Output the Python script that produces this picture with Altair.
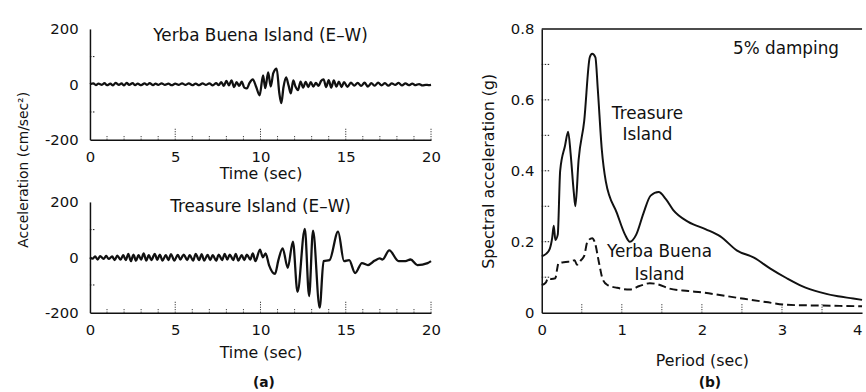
import altair as alt
import pandas as pd

# ---------------- data ----------------
# (a) top: Yerba Buena Island (E-W) acceleration, cm/sec^2
yb_time = [0.0, 0.2, 0.35, 0.5, 0.7, 0.85, 1.0, 1.2, 1.35, 1.5, 1.7, 1.85, 2.0, 2.15, 2.3, 2.5,
           2.65, 2.8, 3.0, 3.2, 3.35, 3.5, 3.7, 3.85, 4.0, 4.2, 4.4, 4.6, 4.8, 5.0, 5.2, 5.4,
           5.6, 5.8, 6.0, 6.2, 6.4, 6.6, 6.8, 7.0, 7.2, 7.4, 7.55, 7.7, 7.85, 8.0, 8.15, 8.3,
           8.45, 8.6, 8.75, 8.9, 9.05, 9.2, 9.35, 9.55, 9.75, 9.95, 10.15, 10.28, 10.45, 10.6,
           10.75, 10.95, 11.1, 11.22, 11.35, 11.5, 11.65, 11.78, 11.92, 12.05, 12.2, 12.35,
           12.5, 12.65, 12.8, 12.95, 13.1, 13.25, 13.4, 13.55, 13.7, 13.85, 14.0, 14.15, 14.3,
           14.45, 14.6, 14.75, 14.9, 15.1, 15.3, 15.5, 15.7, 15.9, 16.1, 16.3, 16.5, 16.7, 16.9,
           17.1, 17.3, 17.5, 17.7, 17.9, 18.1, 18.3, 18.5, 18.7, 18.9, 19.1, 19.3, 19.5, 19.7,
           19.85, 20.0]
yb_acc = [0, 3, -3, 2, -2, 4, -3, 2, -4, 5, -2, 3, -4, 5, -2, 4,
          -3, 2, -3, 3, -2, 4, -3, 2, -2, 3, -2, 2, -3, 2, -2, 3,
          -2, 3, -3, 2, -3, 3, -2, 3, -4, 4, -3, 8, -6, 12, -4, 14,
          -10, 8, -6, 10, -12, -15, 4, 18, -10, -40, 32, -14, 43, -8,
          40, 57, -30, -68, -10, 25, -5, -33, 14, -8, -21, 10,
          -12, 9, -10, 8, -8, 5, -6, 12, 18, -10, 15, -12, 14,
          -8, 10, -10, 8, -9, 6, -5, 5, -6, 6, -8, 4, -5, 6,
          -4, 4, -5, 3, -2, 5, -4, 3, -3, 2, -3, 1, -4, -2,
          -3, -2]

# (a) bottom: Treasure Island (E-W) acceleration, cm/sec^2
ti_time = [0.0, 0.15, 0.3, 0.45, 0.6, 0.8, 0.95, 1.1, 1.3, 1.45, 1.6, 1.8, 1.95, 2.1, 2.25, 2.4,
           2.55, 2.7, 2.85, 3.0, 3.15, 3.3, 3.45, 3.6, 3.8, 3.95, 4.1, 4.25, 4.45, 4.6, 4.75,
           4.95, 5.15, 5.3, 5.5, 5.7, 5.85, 6.05, 6.2, 6.4, 6.55, 6.7, 6.9, 7.05, 7.2, 7.4,
           7.55, 7.75, 7.9, 8.05, 8.2, 8.4, 8.55, 8.7, 8.9, 9.05, 9.2, 9.4, 9.55, 9.7, 9.97,
           10.14, 10.3, 10.5, 10.85, 11.05, 11.3, 11.6, 11.9, 12.17, 12.6, 12.85, 13.08, 13.47,
           13.7, 14.05, 14.55, 14.9, 15.2, 15.55, 15.95, 16.3, 16.7, 17.0, 17.15, 17.55, 18.1,
           18.5, 18.8, 19.2, 19.8, 20.0]
ti_acc = [0, -5, 3, -8, 4, -6, 5, -6, 3, -10, 6, -8, 8, -10, 12, -14,
          10, -12, 8, -8, 14, -12, 8, -10, 12, -9, 10, -12, 8, -10, 11,
          -12, 9, -8, 10, -10, 8, -12, 12, -10, 11, -12, 9, -10, 8, -12,
          10, -10, 12, -8, 10, -10, 12, -12, 8, -10, 10, -8, 14, -14, 28,
          0, 14, -28, -60, -10, 32, -38, 57, -125, 103, -140, 96, -182,
          -14, -10, 93, -14, -10, -57, -21, -28, -12, -4, -8, 25, -14,
          -14, -8, -28, -21, -14]

# (b) 5% damped spectral acceleration, g
ti_period = [0.0, 0.05, 0.1, 0.13, 0.15, 0.17, 0.2, 0.23, 0.29, 0.33, 0.36, 0.4, 0.42, 0.46,
             0.53, 0.6, 0.63, 0.67, 0.7, 0.75, 0.8, 0.94, 1.04, 1.1, 1.18, 1.27, 1.36, 1.46,
             1.55, 1.64, 1.83, 2.05, 2.23, 2.44, 2.65, 2.85, 3.06, 3.25, 3.47, 3.7, 3.89, 4.0]
ti_sa = [0.159, 0.165, 0.18, 0.21, 0.245, 0.205, 0.22, 0.40, 0.47, 0.51, 0.45, 0.34, 0.30, 0.43,
         0.54, 0.72, 0.73, 0.72, 0.63, 0.46, 0.37, 0.28, 0.22, 0.20, 0.22, 0.28, 0.33, 0.34,
         0.32, 0.29, 0.256, 0.235, 0.215, 0.175, 0.155, 0.125, 0.097, 0.075, 0.058, 0.046,
         0.040, 0.036]
yb_period = [0.0, 0.05, 0.08, 0.12, 0.17, 0.19, 0.21, 0.3, 0.38, 0.41, 0.44, 0.49, 0.53, 0.57,
             0.63, 0.66, 0.72, 0.76, 0.82, 0.94, 1.1, 1.22, 1.35, 1.45, 1.59, 1.83, 2.0, 2.44,
             2.8, 3.06, 3.5, 4.0]
yb_sa = [0.078, 0.085, 0.097, 0.095, 0.097, 0.12, 0.14, 0.143, 0.145, 0.148, 0.135, 0.148, 0.16,
         0.20, 0.21, 0.20, 0.135, 0.095, 0.078, 0.07, 0.065, 0.075, 0.083, 0.08, 0.068, 0.061,
         0.057, 0.042, 0.03, 0.022, 0.02, 0.018]

# axis tick values
time_labels = [0, 5, 10, 15, 20]
time_minor = [1, 2, 3, 4, 6, 7, 8, 9, 11, 12, 13, 14, 16, 17, 18, 19]
time_major = [5, 10, 15, 20]
acc_labels = [-200, 0, 200]
acc_minor = [-100, 100]
period_labels = [0, 1, 2, 3, 4]
period_minor = [0.5, 1, 1.5, 2, 2.5, 3, 3.5]
sa_labels = [0, 0.2, 0.4, 0.6, 0.8]
sa_minor = [0.1, 0.2, 0.3, 0.4, 0.5, 0.6, 0.7]

FONT = "DejaVu Sans"
INK = "#111111"
WL, HL = 345, 112
WR, HR = 324, 287


def left_x(title_pad):
    return alt.X("x:Q", scale=alt.Scale(domain=[0, 20], nice=False, zero=False),
                 axis=alt.Axis(values=time_labels, title="Time (sec)", labelPadding=10,
                               labelFlush=False, titlePadding=title_pad))


def left_y(title):
    kw = dict(values=acc_labels, labelPadding=12,
              labelExpr="datum.value < 0 ? '-' + abs(datum.value) : '' + datum.value")
    if title:
        kw.update(title=title, titleY=142, titlePadding=14, titleFontSize=14)
    else:
        kw.update(title=None)
    return alt.Y("y:Q", scale=alt.Scale(domain=[-200, 200], nice=False, zero=False),
                 axis=alt.Axis(**kw))


def tick_layers(xenc, yenc, xminor, xmajor, yminor, h, lmin, lmaj, ylen):
    layers = []
    layers.append(alt.Chart(pd.DataFrame({"x": xminor})).mark_rule(
        color=INK, strokeWidth=1, strokeDash=[1, 1.5]).encode(
        x=xenc, y=alt.value(h), y2=alt.value(h - lmin)))
    if xmajor:
        layers.append(alt.Chart(pd.DataFrame({"x": xmajor})).mark_rule(
            color=INK, strokeWidth=1, strokeDash=[1, 1.5]).encode(
            x=xenc, y=alt.value(h), y2=alt.value(h - lmaj)))
    layers.append(alt.Chart(pd.DataFrame({"y": yminor})).mark_rule(
        color=INK, strokeWidth=1, strokeDash=[1.5, 1.5]).encode(
        y=yenc, x=alt.value(0), x2=alt.value(ylen)))
    return layers


def panel_tag(xenc, x, text, ypix):
    return alt.Chart(pd.DataFrame({"x": [x], "label": [text]})).mark_text(
        font=FONT, fontSize=14, fontWeight="bold", color=INK, baseline="middle").encode(
        x=xenc, y=alt.value(ypix), text="label:N")


def trace_panel(times, acc, label, ytitle, title_pad, label_y, tag=None):
    xenc = left_x(title_pad)
    yenc = left_y(ytitle)
    line = alt.Chart(pd.DataFrame({"x": times, "y": acc})).mark_line(
        color=INK, strokeWidth=2.3, interpolate="monotone").encode(x=xenc, y=yenc)
    txt = alt.Chart(pd.DataFrame({"x": [10], "y": [label_y], "label": [label]})).mark_text(
        font=FONT, fontSize=17, color=INK, baseline="middle").encode(
        x=xenc, y=yenc, text="label:N")
    layers = [line, txt] + tick_layers(xenc, yenc, time_minor, time_major, acc_minor,
                                       HL, 5, 12, 5)
    if tag:
        layers.append(panel_tag(xenc, 10.2, tag, 183))
    return alt.layer(*layers).properties(width=WL, height=HL)


top = trace_panel(yb_time, yb_acc, "Yerba Buena Island (E\u2013W)",
                  "Acceleration (cm/sec\u00b2)", 1, 176)
bottom = trace_panel(ti_time, ti_acc, "Treasure Island (E\u2013W)", None, 7, 182, tag="(a)")

left = alt.vconcat(top, bottom, spacing=63, bounds="flush")

# ---------------- (b) ----------------
rx = alt.X("x:Q", scale=alt.Scale(domain=[0, 4], nice=False, zero=False),
           axis=alt.Axis(values=period_labels, title="Period (sec)", labelPadding=10,
                         titlePadding=15, labelFlush=False,
                         labelAlign={"condition": {"test": "datum.value == 4", "value": "right"},
                                     "value": "center"}))
ry = alt.Y("y:Q", scale=alt.Scale(domain=[0, 0.8], nice=False, zero=False),
           axis=alt.Axis(values=sa_labels, title="Spectral acceleration (g)", labelPadding=8,
                         titlePadding=14,
                         labelExpr="datum.value == 0 ? '0' : format(datum.value, '.1f')"))

ti_line = alt.Chart(pd.DataFrame({"x": ti_period, "y": ti_sa})).mark_line(
    color=INK, strokeWidth=2, interpolate="monotone").encode(x=rx, y=ry)
yb_line = alt.Chart(pd.DataFrame({"x": yb_period, "y": yb_sa})).mark_line(
    color=INK, strokeWidth=2, strokeDash=[8, 4], interpolate="monotone").encode(x=rx, y=ry)

ann = pd.DataFrame({
    "x": [3.05, 1.32, 1.32, 1.47, 1.47],
    "y": [0.744, 0.56, 0.50, 0.17, 0.106],
    "label": ["5% damping", "Treasure", "Island", "Yerba Buena", "Island"],
})
ann_txt = alt.Chart(ann).mark_text(font=FONT, fontSize=17, color=INK, baseline="middle").encode(
    x=rx, y=ry, text="label:N")
top_border = alt.Chart(pd.DataFrame({"y": [0.8]})).mark_rule(color=INK, strokeWidth=1.5).encode(
    y=ry, x=alt.value(0), x2=alt.value(WR))

right = alt.layer(
    ti_line, yb_line, ann_txt, top_border,
    *tick_layers(rx, ry, period_minor, None, sa_minor, HR, 9, 9, 9),
    panel_tag(rx, 2.1, "(b)", 358)
).properties(width=WR, height=HR)

chart = alt.hconcat(left, right, spacing=40).properties(
    padding={"left": 16, "top": 20, "right": 0, "bottom": 0},
    background="white",
).configure_view(stroke=None).configure_axis(
    grid=False, ticks=False, domainColor=INK, domainWidth=1.5,
    labelFont=FONT, labelFontSize=15, labelColor=INK,
    titleFont=FONT, titleFontSize=16, titleFontWeight="normal", titleColor=INK,
)

chart.save("out.html", embed_options={"renderer": "svg", "actions": False})
